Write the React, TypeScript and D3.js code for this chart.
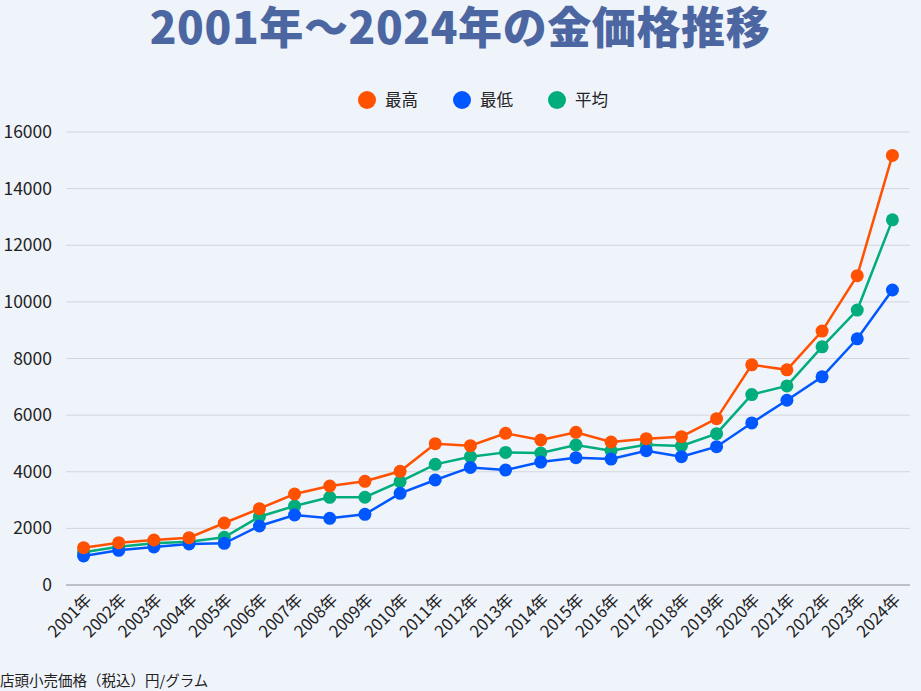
import React from 'react';
import * as d3 from 'd3';

// 年ごとの金価格（店頭小売・税込 円/グラム）
const years = [
  '2001年', '2002年', '2003年', '2004年', '2005年', '2006年', '2007年', '2008年',
  '2009年', '2010年', '2011年', '2012年', '2013年', '2014年', '2015年', '2016年',
  '2017年', '2018年', '2019年', '2020年', '2021年', '2022年', '2023年', '2024年',
];
const highs = [
  1317, 1494, 1589, 1671, 2190, 2695, 3214, 3497, 3662, 4016, 4991, 4920,
  5357, 5121, 5392, 5050, 5168, 5239, 5876, 7776, 7599, 8968, 10926, 15174,
];
const lows = [
  1024, 1225, 1342, 1448, 1472, 2084, 2472, 2355, 2496, 3238, 3708, 4153,
  4059, 4342, 4496, 4448, 4743, 4531, 4885, 5723, 6525, 7351, 8696, 10419,
];
const avgs = [
  1155, 1353, 1472, 1530, 1684, 2413, 2790, 3097, 3100, 3650, 4262, 4531,
  4684, 4661, 4944, 4743, 4956, 4909, 5345, 6726, 7032, 8413, 9711, 12897,
];
const yTicks = [0, 2000, 4000, 6000, 8000, 10000, 12000, 14000, 16000];

const series = [
  { name: '最高', color: '#ff5100', values: highs },
  { name: '最低', color: '#0057ff', values: lows },
  { name: '平均', color: '#00ad7b', values: avgs },
];

const W = 921;
const H = 691;
const font = '"Noto Sans CJK JP", "Noto Sans", sans-serif';

export default function App() {
  const x = d3.scaleBand<string>().domain(years).range([66, 910]);
  const y = d3.scaleLinear().domain([0, 16000]).range([585, 132]);
  const cx = (d: string) => (x(d) ?? 0) + x.bandwidth() / 2;

  const line = d3
    .line<number>()
    .x((_, i) => cx(years[i]))
    .y((v) => y(v));

  // 最高を最後に描いて一番上に
  const drawOrder = [series[2], series[1], series[0]];

  return (
    <svg
      width={W}
      height={H}
      style={{ position: 'absolute', left: 0, top: 0, background: '#eff3fa', fontFamily: font }}
    >
      <rect width={W} height={H} fill="#eff3fa" />
      <text
        x={460}
        y={44}
        textAnchor="middle"
        fontSize={44}
        fontWeight={900}
        letterSpacing={0.6}
        fill="#4b66a0"
      >
        2001年～2024年の金価格推移
      </text>

      {series.map((s, i) => {
        const lx = [367, 462, 557][i];
        return (
          <g key={s.name}>
            <circle cx={lx} cy={100} r={9} fill={s.color} />
            <text x={lx + 18} y={106} fontSize={16.5} fill="#222">
              {s.name}
            </text>
          </g>
        );
      })}

      {yTicks.map((t) => (
        <g key={t}>
          <line
            x1={66}
            x2={910}
            y1={y(t)}
            y2={y(t)}
            stroke={t === 0 ? '#bcc0c6' : '#d2d6dc'}
            strokeWidth={t === 0 ? 2 : 1}
          />
          <text x={52} y={y(t) + 6} textAnchor="end" fontSize={17.5} fill="#222">
            {t}
          </text>
        </g>
      ))}

      {years.map((yr) => (
        <text
          key={yr}
          transform={`translate(${cx(yr) + 9},${601}) rotate(-45)`}
          textAnchor="end"
          fontSize={16.5}
          fill="#222"
        >
          {yr}
        </text>
      ))}

      {drawOrder.map((s) => (
        <g key={s.name}>
          <path d={line(s.values) ?? ''} fill="none" stroke={s.color} strokeWidth={2.5} />
          {s.values.map((v, i) => (
            <circle key={i} cx={cx(years[i])} cy={y(v)} r={6.5} fill={s.color} />
          ))}
        </g>
      ))}

      <text x={0} y={686} fontSize={14.5} fill="#222">
        店頭小売価格（税込）円/グラム
      </text>
    </svg>
  );
}
